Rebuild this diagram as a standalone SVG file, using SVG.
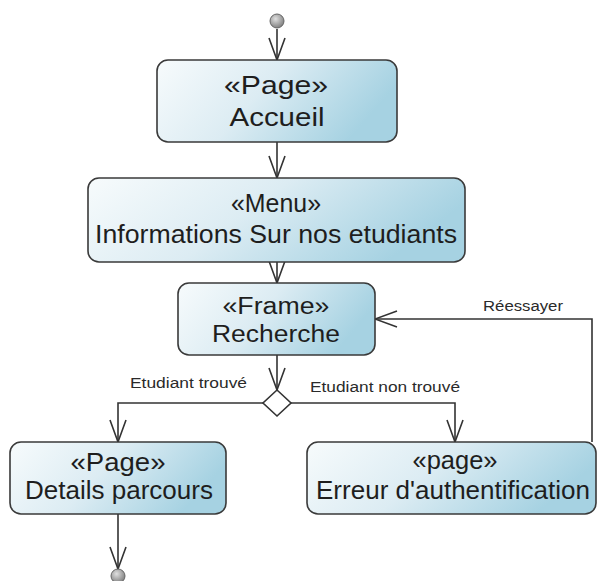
<svg xmlns="http://www.w3.org/2000/svg" width="598" height="581" viewBox="0 0 598 581">
<defs>
<linearGradient id="boxfill" x1="0" y1="0" x2="1" y2="0.3">
<stop offset="0" stop-color="#f7fbfc"/>
<stop offset="0.5" stop-color="#dcecf3"/>
<stop offset="1" stop-color="#a6d2e2"/>
</linearGradient>
<radialGradient id="ball" cx="0.4" cy="0.35" r="0.7">
<stop offset="0" stop-color="#e0e0e0"/>
<stop offset="1" stop-color="#7a7a7a"/>
</radialGradient>
<marker id="arr" markerUnits="userSpaceOnUse" viewBox="-24 -10 26 20" refX="0" refY="0" markerWidth="26" markerHeight="20" orient="auto">
<path d="M-22,-8 L0,0 L-22,8" fill="none" stroke="#333" stroke-width="1.6"/>
</marker>
<style>
.box{fill:url(#boxfill);stroke:#3a3a3a;stroke-width:1.6}
.t{font-family:"Liberation Sans",Arial,sans-serif;font-size:25px;fill:#1e1e1e;text-anchor:middle}
.ts{font-size:23px}
.lbl{font-family:"Liberation Sans",Arial,sans-serif;font-size:14px;fill:#2a2a2a;text-anchor:start}
.c{fill:none;stroke:#333;stroke-width:1.6}
</style>
</defs>
<rect width="598" height="581" fill="#ffffff"/>
<g id="connectors">
<path class="c" d="M277,29 L277,60" marker-end="url(#arr)"/>
<path class="c" d="M277,142 L277,178" marker-end="url(#arr)"/>
<path class="c" d="M277,262 L277,283" marker-end="url(#arr)"/>
<path class="c" d="M277,355 L277,390" marker-end="url(#arr)"/>
<path class="c" d="M263,403 L118,403 L118,442" marker-end="url(#arr)"/>
<path class="c" d="M291,403 L455,403 L455,442" marker-end="url(#arr)"/>
<path class="c" d="M592,442 L592,319 L375,319" marker-end="url(#arr)"/>
<path class="c" d="M118,514 L118,569" marker-end="url(#arr)"/>
<text class="lbl" x="130" y="388" textLength="117" lengthAdjust="spacingAndGlyphs">Etudiant trouvé</text>
<text class="lbl" x="310" y="392" textLength="150" lengthAdjust="spacingAndGlyphs">Etudiant non trouvé</text>
<text class="lbl" x="483" y="311" textLength="80" lengthAdjust="spacingAndGlyphs">Réessayer</text>
</g>
<g id="start">
<circle cx="277" cy="21" r="7" fill="url(#ball)" stroke="#666" stroke-width="1"/>
</g>
<g id="accueil">
<rect class="box" x="157" y="60" width="240" height="82" rx="11"/>
<text class="t" x="276" y="94" textLength="104" lengthAdjust="spacingAndGlyphs">«Page»</text>
<text class="t" x="277" y="126" textLength="95" lengthAdjust="spacingAndGlyphs">Accueil</text>
</g>
<g id="menu">
<rect class="box" x="88" y="178" width="377" height="84" rx="11"/>
<text class="t" x="276" y="212" textLength="90" lengthAdjust="spacingAndGlyphs">«Menu»</text>
<text class="t" x="276" y="243" textLength="362" lengthAdjust="spacingAndGlyphs">Informations Sur nos etudiants</text>
</g>
<g id="recherche">
<rect class="box" x="178" y="283" width="197" height="72" rx="11"/>
<text class="t ts" x="276" y="314" textLength="107" lengthAdjust="spacingAndGlyphs">«Frame»</text>
<text class="t ts" x="276" y="342" textLength="128" lengthAdjust="spacingAndGlyphs">Recherche</text>
</g>
<g id="decision">
<polygon points="277,390 291,403 277,416 263,403" fill="#ffffff" stroke="#333" stroke-width="1.6"/>
</g>
<g id="details">
<rect class="box" x="10" y="442" width="216" height="72" rx="11"/>
<text class="t" x="118" y="471" textLength="95" lengthAdjust="spacingAndGlyphs">«Page»</text>
<text class="t" x="119" y="499" textLength="188" lengthAdjust="spacingAndGlyphs">Details parcours</text>
</g>
<g id="erreur">
<rect class="box" x="307" y="442" width="289" height="72" rx="11"/>
<text class="t" x="455" y="469" textLength="85" lengthAdjust="spacingAndGlyphs">«page»</text>
<text class="t" x="453" y="499" textLength="274" lengthAdjust="spacingAndGlyphs">Erreur d'authentification</text>
</g>
<g id="end">
<circle cx="118" cy="576" r="7" fill="url(#ball)" stroke="#666" stroke-width="1"/>
</g>
</svg>
